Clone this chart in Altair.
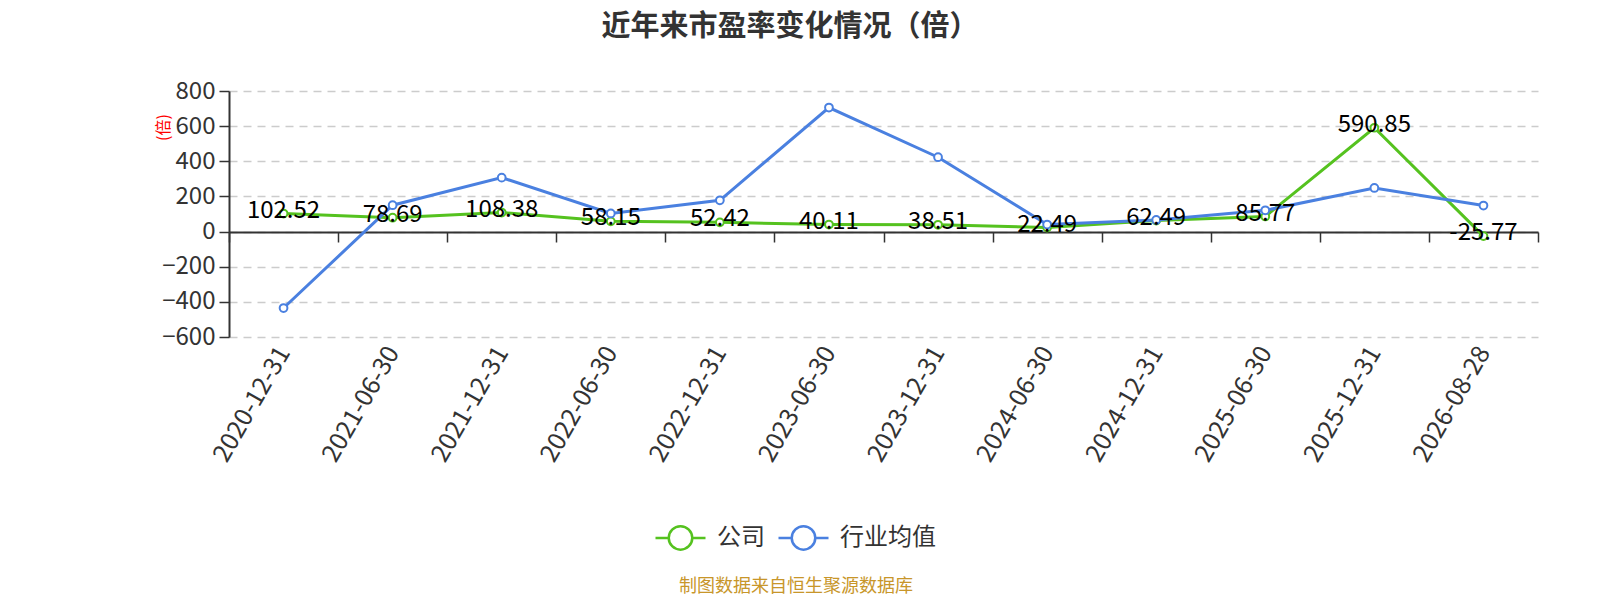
import altair as alt
import pandas as pd

dates = ["2020-12-31", "2021-06-30", "2021-12-31", "2022-06-30", "2022-12-31", "2023-06-30",
         "2023-12-31", "2024-06-30", "2024-12-31", "2025-06-30", "2025-12-31", "2026-08-28"]
company = [102.52, 78.69, 108.38, 58.15, 52.42, 40.11, 38.51, 22.49, 62.49, 85.77, 590.85, -25.77]
industry = [-435, 150, 307, 103, 178, 706, 423, 40, 66, 121, 248, 148]
series_names = ["公司", "行业均值"]
series_colors = ["#55c21f", "#4a80e0"]
y_ticks = [-600, -400, -200, 0, 200, 400, 600, 800]
title_text = "近年来市盈率变化情况（倍）"
footer_text = "制图数据来自恒生聚源数据库"

rows = []
for d, c, i in zip(dates, company, industry):
    rows.append({"date": d, "series": series_names[0], "value": c, "label": f"{c:.2f}"})
    rows.append({"date": d, "series": series_names[1], "value": i, "label": ""})
df = pd.DataFrame(rows)

FONT = "Noto Sans CJK SC"
PLOT_W, PLOT_H = 1309, 246

x_enc = alt.X(
    "date:N", sort=dates, title=None,
    scale=alt.Scale(type="band", paddingInner=0, paddingOuter=0),
    axis=alt.Axis(
        offset=-105, domainColor="#333", domainWidth=2, tickColor="#333", tickWidth=1.5,
        tickSize=10, tickBand="extent", labelAngle=-60, labelAlign="right",
        labelBaseline="middle", labelPadding=106, labelFontSize=25, labelColor="#333",
        labelFont=FONT, grid=False, labelOverlap=False,
    ),
)
y_enc = alt.Y(
    "value:Q",
    scale=alt.Scale(domain=[-600, 800], nice=False, zero=False),
    axis=alt.Axis(
        values=y_ticks, tickCount=20, title="(倍)", titleColor="red", titleFontSize=16,
        titleFont=FONT, titleFontWeight="normal", titleX=-66, titleY=36, titleAngle=270,
        titleAlign="center", titleBaseline="middle",
        domainColor="#333", domainWidth=2, tickColor="#333", tickSize=10, tickWidth=1.5,
        labelFontSize=24, labelColor="#333", labelFont=FONT, labelPadding=4,
        labelOverlap=False, labelFlush=False,
        grid=True, gridColor="#cccccc", gridDash=[8, 6], gridWidth=1.5,
    ),
)
color_enc = alt.Color(
    "series:N",
    scale=alt.Scale(domain=series_names, range=series_colors),
    legend=alt.Legend(
        title=None, orient="none", direction="horizontal", legendX=425, legendY=420,
        symbolType="M-1,0L-0.47,0M0.47,0L1,0M0.47,0A0.47,0.47,0,1,1,-0.47,0A0.47,0.47,0,1,1,0.47,0Z",
        symbolSize=2500, symbolStrokeWidth=2.5, symbolFillColor="white",
        labelFontSize=24, labelColor="#333", labelFont=FONT, labelOffset=10,
        columnPadding=8, padding=0,
    ),
)

base = alt.Chart(df).encode(x=x_enc, y=y_enc, color=color_enc,
                            order=alt.Order("series:N"))
lines = base.mark_line(strokeWidth=3)
points = base.mark_point(filled=False, fill="white", size=60, strokeWidth=2, opacity=1, shape="circle")
labels = alt.Chart(df[df["series"] == series_names[0]]).mark_text(
    fontSize=24, font=FONT, color="#000", baseline="middle", dy=-3
).encode(x=alt.X("date:N", sort=dates), y="value:Q", text="label:N")

title = alt.Chart(pd.DataFrame({"t": [title_text]})).mark_text(
    fontSize=29, font=FONT, fontWeight="bold", color="#333", align="center", baseline="middle"
).encode(text="t:N", x=alt.value(561), y=alt.value(-64))

footer = alt.Chart(pd.DataFrame({"t": [footer_text]})).mark_text(
    fontSize=18, font=FONT, color="#c8962a", align="center", baseline="middle"
).encode(text="t:N", x=alt.value(567), y=alt.value(496))

chart = alt.layer(lines, points, labels, title, footer).properties(
    width=PLOT_W, height=PLOT_H,
    autosize=alt.AutoSizeParams(type="none"),
    padding={"left": 221, "top": 83, "right": 54, "bottom": 262},
).configure(background="white").configure_view(strokeWidth=0)

chart.save("out.html", embed_options={"renderer": "svg", "actions": False})
